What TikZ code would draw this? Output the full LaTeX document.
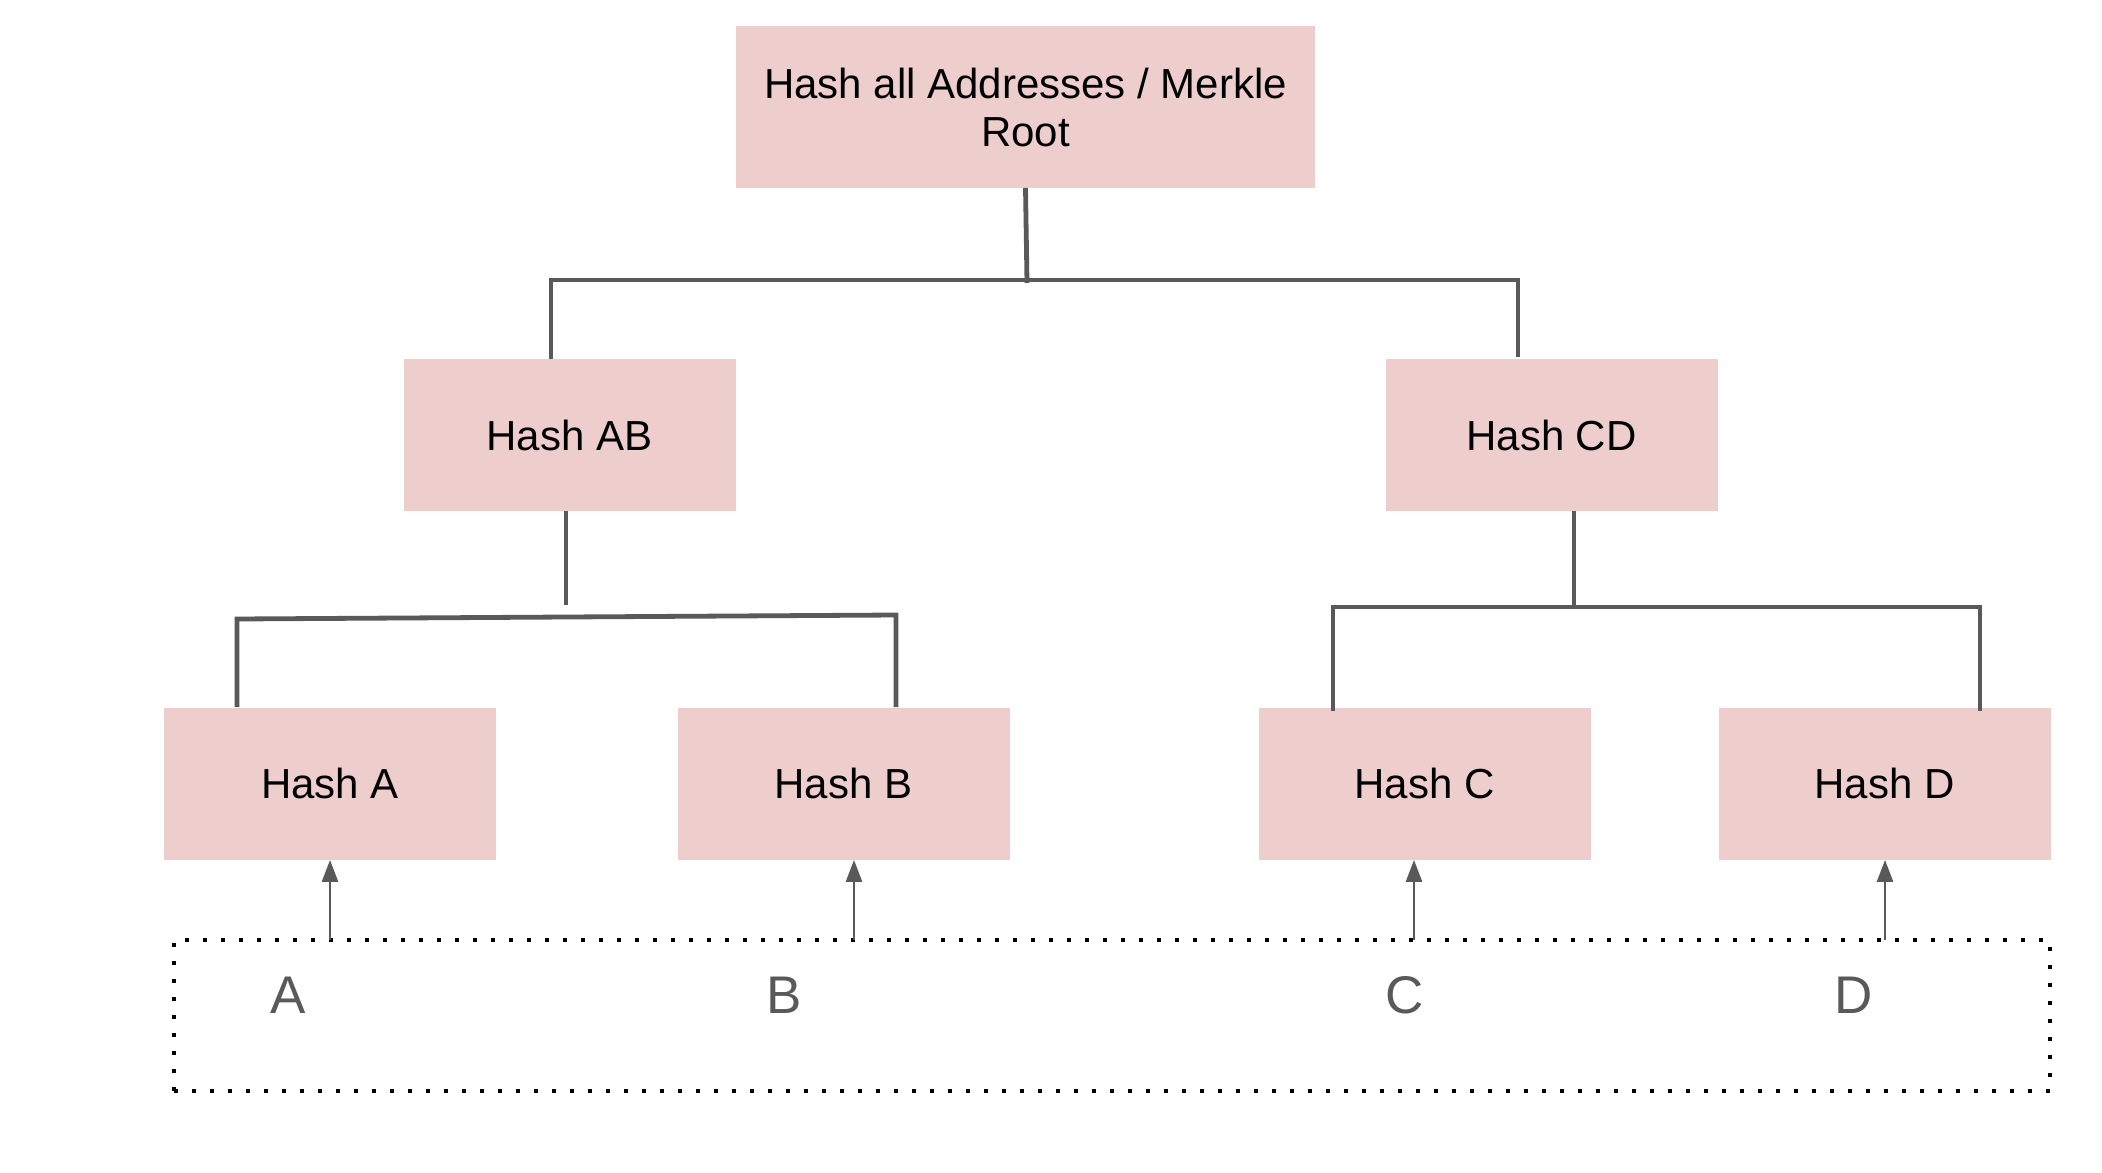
\documentclass[tikz,border=0pt]{standalone}
\usepackage{fontspec}
\setmainfont{Liberation Sans}
\usetikzlibrary{arrows.meta}
\definecolor{boxpink}{RGB}{238,205,205}
\definecolor{linegray}{RGB}{89,89,89}
\tikzstyle{hashbox}=[rectangle,fill=boxpink,minimum width=166pt,minimum height=76pt,inner sep=0pt,font=\fontsize{21}{24}\selectfont]
\tikzstyle{leafname}=[text=linegray,inner sep=0pt,font=\fontsize{26.5}{30}\selectfont]
\tikzstyle{link}=[draw=linegray,line width=2.4pt]
\tikzstyle{feed}=[draw=linegray,line width=1.3pt,-{Triangle[width=8pt,length=11pt]}]

\begin{document}
\begin{tikzpicture}[x=0.5pt,y=-0.5pt]
\useasboundingbox (0,0) rectangle (2102,1172);
\node[hashbox,minimum width=289.5pt,minimum height=80.5pt,align=center] at (1025.5, 107) (root) {Hash all Addresses / Merkle\\Root};
\node[hashbox] at (569.5, 435) (hAB) {Hash AB};
\node[hashbox] at (1551.5, 435) (hCD) {Hash CD};
\node[hashbox] at (330, 783.5) (hA) {Hash A};
\node[hashbox] at (843.5, 783.5) (hB) {Hash B};
\node[hashbox] at (1424.5, 783.5) (hC) {Hash C};
\node[hashbox] at (1884.5, 783.5) (hD) {Hash D};
% addresses
\node[draw=black,line width=2pt,dash pattern=on 2pt off 7pt,minimum width=938pt,minimum height=75.5pt,inner sep=0pt] at (1112, 1015.5) (addr) {};
\node[leafname] at (288, 995) (lA) {A};
\node[leafname] at (784, 995) (lB) {B};
\node[leafname] at (1405, 995) (lC) {C};
\node[leafname] at (1854, 995) (lD) {D};
% tree connectors
\coordinate (rj) at (1027, 283);
\coordinate (rL) at (551, 280);
\coordinate (rR) at (1518, 280);
\draw[link] (root.south) -- (rj);
\draw[link] (hAB.north -| rL) -- (rL) -- (rR) -- ([yshift=1pt]hCD.north -| rR);
\coordinate (abj) at (566, 605);
\coordinate (abL) at (237, 619);
\coordinate (abR) at (896, 615);
\draw[link] (hAB.south -| abj) -- (abj);
\draw[link] (hA.north -| abL) -- (abL) -- (abR) -- (hB.north -| abR);
\coordinate (cdj) at (1574, 607);
\coordinate (cdL) at (1333, 607);
\coordinate (cdR) at (1980, 607);
\draw[link] (hCD.south -| cdj) -- (cdj);
\draw[link] ([yshift=-2pt]hC.north -| cdL) -- (cdL) -- (cdR) -- ([yshift=-2pt]hD.north -| cdR);
% inputs
\coordinate (inA) at (330, 940);
\coordinate (inB) at (854, 940);
\coordinate (inC) at (1414, 940);
\coordinate (inD) at (1885, 940);
\draw[feed] (inA) -- (inA |- hA.south);
\draw[feed] (inB) -- (inB |- hB.south);
\draw[feed] (inC) -- (inC |- hC.south);
\draw[feed] (inD) -- (inD |- hD.south);
\end{tikzpicture}
\end{document}
